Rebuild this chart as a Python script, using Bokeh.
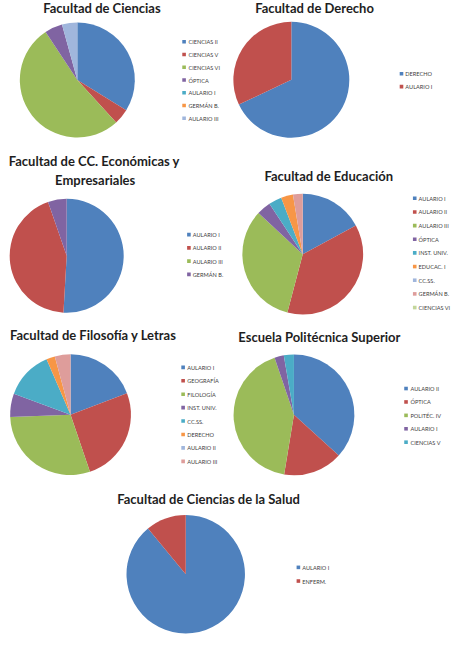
import math
from bokeh.plotting import figure
from bokeh.models import Range1d, ColumnDataSource
from bokeh.core.properties import value
from bokeh.embed import file_html
from bokeh.resources import INLINE

# ---------------- data ----------------
ciencias_labels = ["CIENCIAS II", "CIENCIAS V", "CIENCIAS VI", "ÓPTICA", "AULARIO I", "GERMÁN B.", "AULARIO III"]
ciencias_values = [33.8, 4.4, 52.5, 5.0, 0, 0, 4.3]

derecho_labels = ["DERECHO", "AULARIO I"]
derecho_values = [68, 32]

economicas_labels = ["AULARIO I", "AULARIO II", "AULARIO III", "GERMÁN B."]
economicas_values = [50.9, 43.8, 0, 5.3]

educacion_labels = ["AULARIO I", "AULARIO II", "AULARIO III", "ÓPTICA", "INST. UNIV.",
                    "EDUCAC. I", "CC.SS.", "GERMÁN B.", "CIENCIAS VI"]
educacion_values = [17.1, 37.0, 32.8, 3.8, 3.5, 3.2, 0, 2.6, 0]

filosofia_labels = ["AULARIO I", "GEOGRAFÍA", "FILOLOGÍA", "INST. UNIV.", "CC.SS.",
                    "DERECHO", "AULARIO II", "AULARIO III"]
filosofia_values = [19.2, 25.6, 29.6, 6.2, 12.9, 2.3, 0, 4.2]

politecnica_labels = ["AULARIO II", "ÓPTICA", "POLITÉC. IV", "AULARIO I", "CIENCIAS V"]
politecnica_values = [36.7, 15.9, 42.2, 2.5, 2.7]

salud_labels = ["AULARIO I", "ENFERM."]
salud_values = [89, 11]

titles = [
    "Facultad de Ciencias",
    "Facultad de Derecho",
    "Facultad de CC. Económicas y\nEmpresariales",
    "Facultad de Educación",
    "Facultad de Filosofía y Letras",
    "Escuela Politécnica Superior",
    "Facultad de Ciencias de la Salud",
]

# ---------------- style / layout ----------------
palette = ["#4F81BD", "#C0504D", "#9BBB59", "#8064A2", "#4BACC6", "#F79646",
           "#A0B6DC", "#DE9D9B", "#C3D69B"]

W, H = 474, 658  # reference pixel space
# (pie cx, cy, r, title x, title y, legend marker x, legend text x, legend y0, legend step)
layout = [
    (79.5, 81.5, 59.5, 105, 8.0, 190, 194.5, 42.3, 13.07),
    (301, 81.3, 60, 325, 8.0, 415, 419, 75, 13.3),
    (68.5, 261.7, 59, 97, 165, 195, 199, 240, 13.55),
    (312.8, 260, 62.5, 339.7, 180, 428.7, 432.7, 202.7, 14.0),
    (72.5, 424.5, 62.5, 96, 343, 189, 193.3, 376, 13.76),
    (303.7, 424.7, 62.5, 330, 345, 419.7, 424.3, 397.7, 13.75),
    (191.7, 588, 61.3, 215.3, 511, 308.3, 312.3, 581, 14.0),
]

datasets = [
    (ciencias_labels, ciencias_values),
    (derecho_labels, derecho_values),
    (economicas_labels, economicas_values),
    (educacion_labels, educacion_values),
    (filosofia_labels, filosofia_values),
    (politecnica_labels, politecnica_values),
    (salud_labels, salud_values),
]

p = figure(width=458, height=642, output_backend="svg", toolbar_location=None,
           x_range=Range1d(0, W), y_range=Range1d(0, H), min_border=0)
p.axis.visible = False
p.grid.visible = False
p.outline_line_color = None
p.background_fill_color = "white"

for (labels, vals), title, lay in zip(datasets, titles, layout):
    cx, cy, r, tx, ty, lmx, ltx, ly0, lstep = lay
    total = float(sum(vals))
    xs, ys, starts, ends, cols = [], [], [], [], []
    cum = 0.0
    for i, v in enumerate(vals):
        c0 = cum / total
        cum += v
        c1 = cum / total
        if v <= 0:
            continue
        xs.append(cx)
        ys.append(H - cy)
        starts.append(math.pi / 2 - 2 * math.pi * c1)
        ends.append(math.pi / 2 - 2 * math.pi * c0)
        cols.append(palette[i])
    src = ColumnDataSource(dict(x=xs, y=ys, s=starts, e=ends, c=cols))
    p.wedge(x="x", y="y", radius=r, start_angle="s", end_angle="e",
            fill_color="c", line_color=None, source=src)

    # legend
    lsrc = ColumnDataSource(dict(
        mx=[lmx] * len(labels),
        tx=[ltx] * len(labels),
        y=[H - (ly0 + i * lstep) for i in range(len(labels))],
        c=palette[:len(labels)],
        t=labels,
    ))
    p.scatter(x="mx", y="y", marker="square", size=3.6, fill_color="c",
              line_color=None, source=lsrc)
    p.text(x="tx", y="y", text="t", source=lsrc, text_font=value("Lato"),
           text_font_size="5.6px", text_color="#404040", text_baseline="middle",
           text_align="left")

    # title
    lines = title.split("\n")
    for j, line in enumerate(lines):
        yy = ty + j * 18.5
        xx = tx if j == 0 else tx + 1
        p.text(x=[xx], y=[H - yy], text=[line], text_font=value("Lato"),
               text_font_style="bold", text_font_size="13px", text_color="#1E1E1E",
               text_align="center", text_baseline="middle")

open("out.html", "w").write(file_html(p, INLINE))
